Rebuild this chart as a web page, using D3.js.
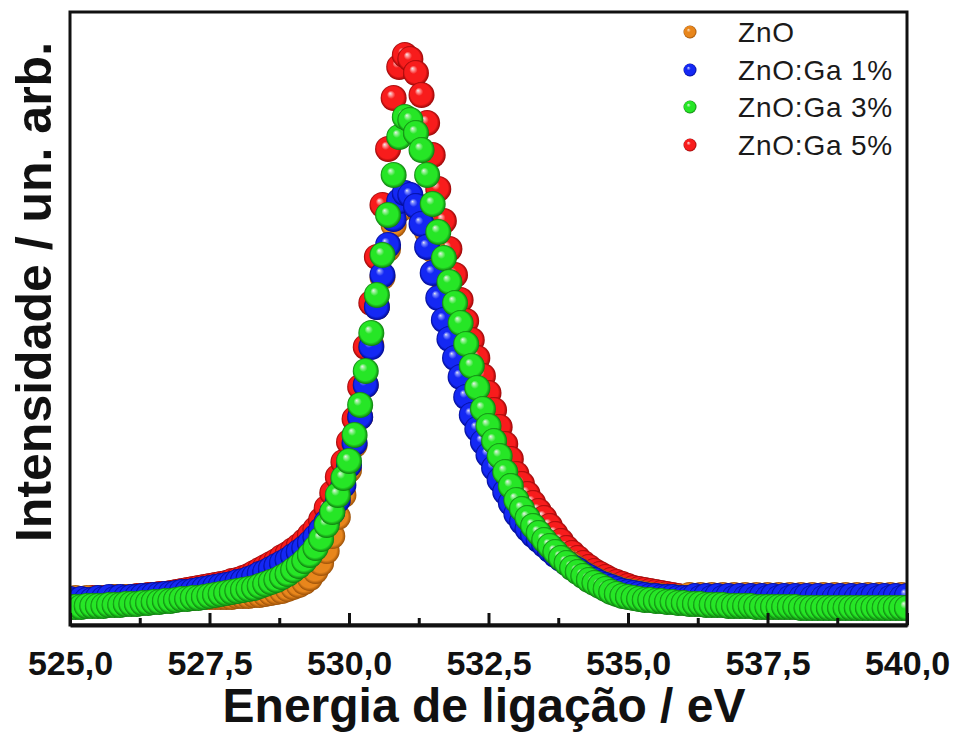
<!DOCTYPE html>
<html>
<head>
<meta charset="utf-8">
<script src="https://cdn.jsdelivr.net/npm/d3@7"></script>
<style>
  html, body { margin: 0; padding: 0; background: #ffffff; }
  svg { display: block; }
</style>
</head>
<body>
<svg id="chart" width="956" height="734"></svg>
<script>
// O 1s XPS spectra, intensity in arbitrary units, sampled every 0.1 eV from 525.0 to 540.0 eV
const energyStart = 525.0;
const energyStep = 0.1;

const seriesNames = ["ZnO", "ZnO:Ga 1%", "ZnO:Ga 3%", "ZnO:Ga 5%"];

const intensityZnO = [
  24,27,25,27,24,27,26,25,28,26,28,
  26,28,26,28,26,28,27,26,28,27,
  27,27,28,28,28,28,28,28,28,29,
  29,29,30,30,31,32,33,34,36,38,
  40,43,47,54,62,74,89,108,130,155,
  180,208,240,280,318,348,376,400,415,423,
  425,420,408,393,375,355,334,314,294,274,
  255,236,217,201,186,171,158,145,133,121,
  111,102,94,88,82,77,72,68,64,60,
  56,52,49,46,43,41,39,37,35,34,
  33,32,31,30,29,29,28,28,28,27,
  30,27,30,27,30,27,30,27,30,27,
  30,27,30,27,30,27,30,27,30,27,
  30,27,30,27,30,27,30,27,30,27,
  30,27,30,27,30,27,30,27,30,27
];

const intensityGa1 = [
  26,24,26,25,25,27,26,28,26,28,27,
  28,28,29,29,30,30,31,31,32,33,
  33,34,35,36,37,38,39,40,41,43,
  44,46,48,51,53,56,59,62,65,69,
  73,77,82,88,95,103,113,125,140,160,
  182,208,240,278,318,350,380,406,424,432,
  430,419,401,378,352,327,305,286,267,248,
  228,210,196,183,170,157,145,133,122,111,
  103,96,90,85,80,75,70,66,62,58,
  55,51,48,45,42,40,38,36,34,33,
  32,31,30,29,29,28,28,28,27,27,
  27,29,27,29,27,29,27,29,27,29,
  27,29,27,29,27,29,27,29,27,29,
  27,29,27,29,27,29,27,29,27,29,
  27,29,27,29,27,29,27,29,27,29
];

const intensityGa3 = [
  18,18,18,19,19,19,19,20,20,20,21,
  21,21,22,22,23,23,24,24,25,26,
  26,27,27,28,29,30,31,32,33,34,
  35,36,37,39,41,43,45,48,51,55,
  59,64,70,77,86,100,113,130,147,164,
  190,220,254,292,330,370,410,450,488,508,
  505,492,475,450,421,393,367,343,322,302,
  281,259,237,216,199,184,169,153,139,125,
  116,107,99,92,85,79,73,67,62,57,
  53,49,45,42,39,36,33,31,29,28,
  27,26,25,25,24,24,23,23,22,22,
  21,21,21,20,20,20,20,19,19,19,
  19,19,18,18,18,18,18,18,18,18,
  17,17,17,17,17,17,17,17,17,17,
  17,17,17,17,17,17,17,17,17,17
];

const intensityGa5 = [
  25,26,24,26,27,25,27,26,28,27,28,
  28,29,29,30,30,31,31,32,33,34,
  35,36,37,38,39,40,41,42,44,45,
  47,49,52,55,58,61,64,68,71,75,
  79,84,90,96,105,117,132,148,163,183,
  206,238,278,322,368,420,476,527,558,570,
  566,552,530,502,470,436,404,376,350,325,
  304,285,267,249,232,215,198,181,166,151,
  141,131,122,114,107,99,91,84,77,72,
  67,62,58,54,51,48,45,43,41,39,
  37,36,35,34,33,32,31,30,29,28,
  28,27,27,27,27,26,26,26,26,26,
  26,26,26,26,26,26,26,26,26,26,
  26,26,26,26,26,26,26,26,26,26,
  26,26,26,26,26,26,26,26,26,26
];

const xMajorTicks = [525, 527.5, 530, 532.5, 535, 537.5, 540];
const xMinorTicks = [526.25, 528.75, 531.25, 533.75, 536.25, 538.75];

const seriesColors = {
  "ZnO":       { base: "#e8861c", light: "#f6bb7a", dark: "#9a5008" },
  "ZnO:Ga 1%": { base: "#1428f4", light: "#7d8cff", dark: "#000a90" },
  "ZnO:Ga 3%": { base: "#26e626", light: "#9cf29c", dark: "#0e7a0e" },
  "ZnO:Ga 5%": { base: "#f81c1c", light: "#ff9c9c", dark: "#960606" }
};

const series = [
  { name: "ZnO",       values: intensityZnO },
  { name: "ZnO:Ga 1%", values: intensityGa1 },
  { name: "ZnO:Ga 3%", values: intensityGa3 },
  { name: "ZnO:Ga 5%", values: intensityGa5 }
];
// later series sit on top: 5% first, then ZnO, 1%, 3%
const drawOrder = ["ZnO:Ga 5%", "ZnO", "ZnO:Ga 1%", "ZnO:Ga 3%"];

const plot = { left: 70, right: 907, top: 12, bottom: 625 };
const markerRadius = 13;
const fontFamily = "'Liberation Sans', Arial, sans-serif";

const svg = d3.select("#chart");

const x = d3.scaleLinear().domain([525, 540]).range([plot.left, plot.right]);
const y = d3.scaleLinear().domain([0, 613]).range([plot.bottom, plot.top]);

// shaded ball gradients
const defs = svg.append("defs");
seriesNames.forEach((name, k) => {
  const c = seriesColors[name];
  const g = defs.append("radialGradient")
    .attr("id", "ball" + k)
    .attr("cx", "0.5").attr("cy", "0.5").attr("r", "0.5")
    .attr("fx", "0.36").attr("fy", "0.32");
  g.append("stop").attr("offset", "0").attr("stop-color", "#eeeeee");
  g.append("stop").attr("offset", "0.12").attr("stop-color", c.light);
  g.append("stop").attr("offset", "0.32").attr("stop-color", c.base);
  g.append("stop").attr("offset", "0.8").attr("stop-color", c.base);
  g.append("stop").attr("offset", "1").attr("stop-color", c.dark);
});

defs.append("clipPath").attr("id", "plotClip")
  .append("rect")
  .attr("x", plot.left).attr("y", plot.top)
  .attr("width", plot.right - plot.left)
  .attr("height", plot.bottom - plot.top);

const dataLayer = svg.append("g").attr("clip-path", "url(#plotClip)");

drawOrder.forEach(name => {
  const s = series.find(d => d.name === name);
  const k = seriesNames.indexOf(name);
  const pts = s.values.map((v, i) => ({ e: energyStart + i * energyStep, v }));
  dataLayer.append("g")
    .selectAll("circle")
    .data(pts)
    .join("circle")
    .attr("cx", d => x(d.e))
    .attr("cy", d => y(d.v))
    .attr("r", markerRadius)
    .attr("fill", `url(#ball${k})`);
});

// frame
svg.append("rect")
  .attr("x", plot.left).attr("y", plot.top)
  .attr("width", plot.right - plot.left)
  .attr("height", plot.bottom - plot.top)
  .attr("fill", "none")
  .attr("stroke", "#111")
  .attr("stroke-width", 3);

// bottom axis: inward ticks, comma decimal labels
const fmt = v => d3.format(".1f")(v).replace(".", ",");
const xAxis = d3.axisBottom(x)
  .tickValues(xMajorTicks)
  .tickSizeInner(-12)
  .tickSizeOuter(0)
  .tickPadding(26)
  .tickFormat(fmt);

const gx = svg.append("g")
  .attr("transform", `translate(0,${plot.bottom})`)
  .call(xAxis);
gx.select(".domain").attr("stroke", "#111").attr("stroke-width", 4);
gx.selectAll(".tick line").attr("stroke", "#111").attr("stroke-width", 3);
gx.selectAll(".tick text")
  .attr("fill", "#111")
  .style("font-family", fontFamily)
  .style("font-weight", "bold")
  .style("font-size", "34px");

const xAxisMinor = d3.axisBottom(x)
  .tickValues(xMinorTicks)
  .tickSizeInner(-7)
  .tickSizeOuter(0)
  .tickFormat("");
const gxm = svg.append("g")
  .attr("transform", `translate(0,${plot.bottom})`)
  .call(xAxisMinor);
gxm.select(".domain").remove();
gxm.selectAll(".tick line").attr("stroke", "#111").attr("stroke-width", 3);

// axis titles
svg.append("text")
  .attr("x", 484)
  .attr("y", 722)
  .attr("text-anchor", "middle")
  .attr("fill", "#111")
  .style("font-family", fontFamily)
  .style("font-weight", "bold")
  .style("font-size", "48px")
  .text("Energia de ligação / eV");

svg.append("text")
  .attr("transform", "translate(51,292) rotate(-90)")
  .attr("text-anchor", "middle")
  .attr("fill", "#111")
  .style("font-family", fontFamily)
  .style("font-weight", "bold")
  .style("font-size", "50px")
  .text("Intensidade / un. arb.");

// legend
const legend = svg.append("g");
const legendRows = [32, 70, 107, 145];
seriesNames.forEach((name, k) => {
  const row = legend.append("g").attr("transform", `translate(690,${legendRows[k]})`);
  row.append("circle")
    .attr("r", 6.5)
    .attr("fill", `url(#ball${k})`);
  row.append("text")
    .attr("x", 48)
    .attr("y", 10)
    .attr("fill", "#1a1a1a")
    .style("font-family", fontFamily)
    .style("font-size", "28px")
    .style("letter-spacing", "0.8px")
    .text(name);
});
</script>
</body>
</html>
